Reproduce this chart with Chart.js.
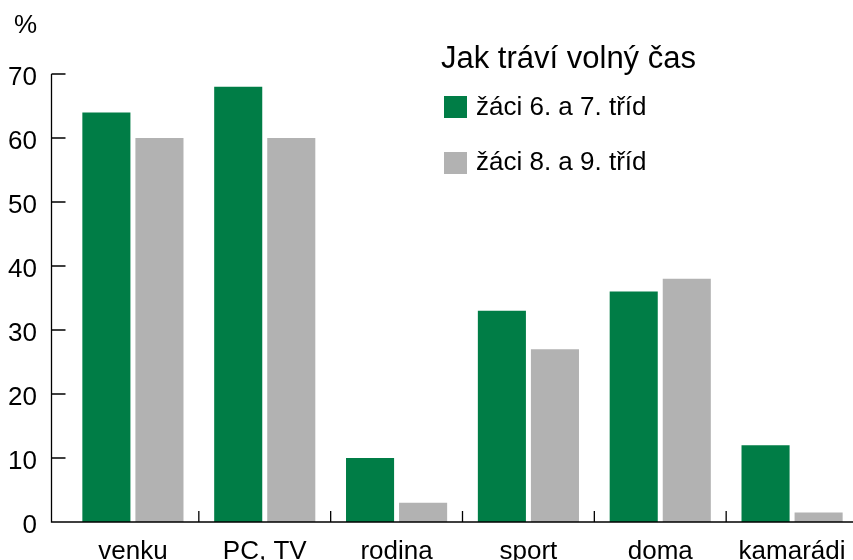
<!DOCTYPE html>
<html>
<head>
<meta charset="utf-8">
<script src="https://cdn.jsdelivr.net/npm/chart.js@4"></script>
<style>
  body { margin: 0; overflow: hidden; background: #fff; font-family: "Liberation Sans", Arial, sans-serif; }
  #wrap { position: relative; width: 853px; height: 560px; overflow: hidden; }
  canvas { position: absolute; left: 0; top: 0; }
  .txt { position: absolute; color: #000; white-space: nowrap; }
  .box { position: absolute; width: 23px; height: 22px; }
</style>
</head>
<body>
<div id="wrap">
  <canvas id="chart" width="858" height="560"></canvas>
  <div class="txt" id="unit" style="left:14px; top:11px; font-size:26px; line-height:26px;">%</div>
  <div class="txt" id="legendTitle" style="left:441px; top:42px; font-size:31px; line-height:31px;"></div>
  <div class="box" id="box0" style="left:444px; top:96px;"></div>
  <div class="txt" id="leg0" style="left:476px; top:93px; font-size:26px; line-height:26px;"></div>
  <div class="box" id="box1" style="left:444px; top:152px;"></div>
  <div class="txt" id="leg1" style="left:476px; top:148px; font-size:26px; line-height:26px;"></div>
</div>
<script>
// data
const categories = ['venku', 'PC, TV', 'rodina', 'sport', 'doma', 'kamarádi'];
const grade67 = [64, 68, 10, 33, 36, 12];
const grade89 = [60, 60, 3, 27, 38, 1.5];
const seriesNames = ['žáci 6. a 7. tříd', 'žáci 8. a 9. tříd'];
const yTicks = [0, 10, 20, 30, 40, 50, 60, 70];
const legendTitle = 'Jak tráví volný čas';

const green = '#007d46';
const grey = '#b2b2b2';

document.getElementById('legendTitle').textContent = legendTitle;
document.getElementById('leg0').textContent = seriesNames[0];
document.getElementById('leg1').textContent = seriesNames[1];
document.getElementById('box0').style.background = green;
document.getElementById('box1').style.background = grey;

// axis lines and inward ticks like the original
const axesPlugin = {
    id: 'axes',
    afterDatasetsDraw(chart) {
        const ctx = chart.ctx;
        const x = chart.scales.x;
        const y = chart.scales.y;
        const axisX = 51.5;
        const base = y.getPixelForValue(0);
        ctx.save();
        ctx.strokeStyle = '#000';
        ctx.lineWidth = 1.3;
        ctx.beginPath();
        ctx.moveTo(axisX, y.getPixelForValue(yTicks[yTicks.length - 1]));
        ctx.lineTo(axisX, base);
        ctx.lineTo(chart.width, base);
        yTicks.forEach(v => {
            const py = y.getPixelForValue(v);
            ctx.moveTo(axisX, py);
            ctx.lineTo(axisX + 14, py);
        });
        for (let i = 0; i < categories.length - 1; i++) {
            const px = (x.getPixelForValue(i) + x.getPixelForValue(i + 1)) / 2;
            ctx.moveTo(px, base);
            ctx.lineTo(px, base - 11);
        }
        ctx.stroke();
        ctx.restore();
    }
};

new Chart(document.getElementById('chart'), {
    type: 'bar',
    data: {
        labels: categories,
        datasets: [
            { label: seriesNames[0], data: grade67, backgroundColor: green },
            { label: seriesNames[1], data: grade89, backgroundColor: grey }
        ]
    },
    options: {
        responsive: false,
        animation: false,
        categoryPercentage: 0.805,
        barPercentage: 0.906,
        layout: { padding: { top: 74, right: 0, left: 0, bottom: 0 } },
        plugins: {
            legend: { display: false },
            tooltip: { enabled: false }
        },
        scales: {
            x: {
                grid: { display: false },
                border: { display: false },
                ticks: {
                    color: '#000',
                    padding: 6,
                    maxRotation: 0,
                    autoSkip: false,
                    font: { family: '"Liberation Sans", Arial, sans-serif', size: 26 }
                },
                afterFit(scale) { scale.height = 38; }
            },
            y: {
                min: 0,
                max: 70,
                grid: { display: false, drawTicks: false },
                border: { display: false },
                ticks: {
                    stepSize: 10,
                    color: '#000',
                    padding: 30,
                    labelOffset: 4,
                    font: { family: '"Liberation Sans", Arial, sans-serif', size: 26 }
                },
                afterFit(scale) {
                    scale.width = 67;
                    scale.paddingTop = 0;
                    scale.paddingBottom = 0;
                }
            }
        }
    },
    plugins: [axesPlugin]
});
</script>
</body>
</html>
